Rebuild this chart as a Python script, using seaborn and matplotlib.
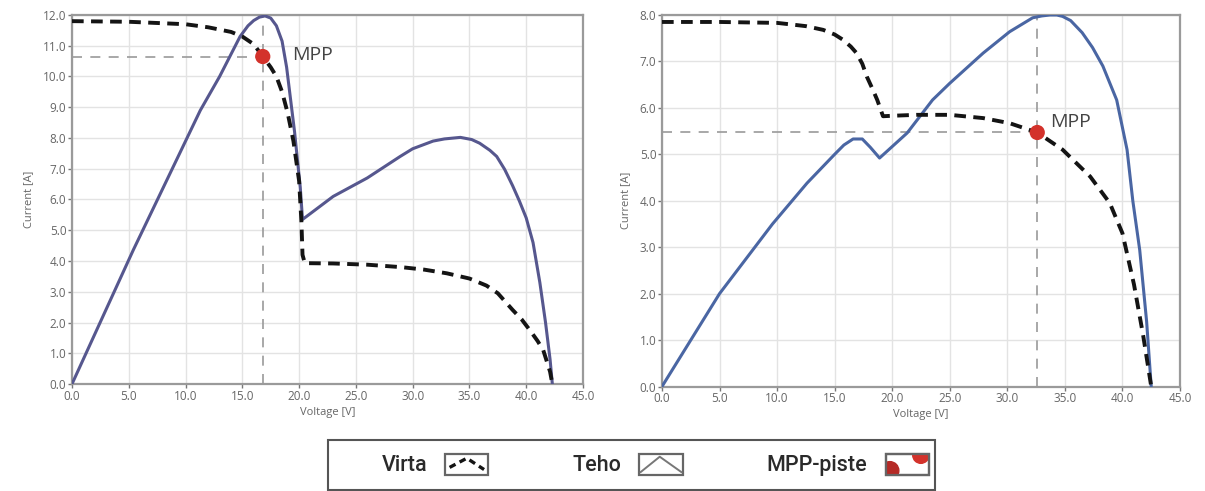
import matplotlib
matplotlib.use("Agg")
import matplotlib.pyplot as plt
import seaborn as sns
import pandas as pd
from matplotlib.lines import Line2D
from matplotlib.patches import Rectangle, Circle
from matplotlib.legend_handler import HandlerBase

# ---------------- data ----------------
# Left panel: current (Virta) and scaled power (Teho)
left_v_current = [0, 5, 10, 12, 14, 15, 16, 16.8, 17.5, 18, 18.5, 19, 19.5, 20, 20.2, 20.3, 20.5,
                  23, 26, 29, 31, 33, 35, 36.5, 37.5, 38.8, 39.6, 40.3, 41.0, 41.5, 42.1, 42.3]
left_i_current = [11.8, 11.78, 11.7, 11.6, 11.45, 11.3, 11.05, 10.65, 10.3, 10.0, 9.5, 8.8, 7.9, 6.6, 5.3, 4.2, 3.93,
                  3.92, 3.88, 3.8, 3.72, 3.6, 3.43, 3.2, 2.95, 2.41, 2.1, 1.76, 1.4, 1.1, 0.4, 0.0]
left_v_power = [0, 5.4, 11.3, 13, 14.8, 15.5, 16, 16.5, 17, 17.5, 18, 18.5, 18.9, 19.6, 20.1, 20.3, 23, 26,
                28.9, 30, 31.8, 32.8, 34.2, 35.2, 35.9, 36.8, 37.4, 38.1, 38.8, 39.4, 40.0, 40.6, 41.2, 41.7,
                42.1, 42.3]
left_p_power = [0, 4.36, 8.9, 10.0, 11.3, 11.65, 11.82, 11.93, 11.97, 11.9, 11.65, 11.15, 10.3, 8.2, 6.4, 5.35,
                6.1, 6.7, 7.4, 7.65, 7.9, 7.97, 8.02, 7.95, 7.83, 7.6, 7.4, 6.98, 6.45, 5.95, 5.4, 4.6, 3.3,
                2.0, 0.8, 0.0]
left_mpp = (16.8, 10.65)

# Right panel
right_v_current = [0, 5, 10, 11.1, 12.5, 14, 15, 15.7, 16.4, 16.9, 17.4, 17.8, 18.3, 18.7, 19.2, 20, 22.1,
                   25, 27.9, 30.2, 32.6, 34.8, 37.2, 38.9, 40.0, 41.0, 41.8, 42.5]
right_i_current = [7.85, 7.85, 7.83, 7.8, 7.76, 7.68, 7.58, 7.47, 7.32, 7.18, 6.95, 6.67, 6.4, 6.17, 5.82, 5.83,
                   5.85, 5.85, 5.78, 5.67, 5.47, 5.1, 4.52, 3.95, 3.3, 2.2, 1.1, 0.0]
right_v_power = [0, 5, 9.6, 12.6, 15, 15.8, 16.6, 17.4, 18.1, 18.9, 21.3, 23.5, 25, 27.9, 30.2, 32.2, 33.0,
                 33.7, 34.3, 34.8, 35.5, 36.5, 37.4, 38.3, 39.5, 40.4, 40.9, 41.5, 42.1, 42.5]
right_p_power = [0, 2.0, 3.5, 4.38, 5.0, 5.2, 5.33, 5.33, 5.15, 4.92, 5.46, 6.17, 6.53, 7.18, 7.64, 7.94, 7.98,
                 8.0, 8.0, 7.97, 7.88, 7.62, 7.3, 6.9, 6.17, 5.1, 4.0, 2.94, 1.4, 0.0]
right_mpp = (32.6, 5.47)

x_ticks = [0, 5, 10, 15, 20, 25, 30, 35, 40, 45]
left_y_ticks = [0, 1, 2, 3, 4, 5, 6, 7, 8, 9, 10, 11, 12]
right_y_ticks = [0, 1, 2, 3, 4, 5, 6, 7, 8]

legend_labels = ["Virta", "Teho", "MPP-piste"]

# ---------------- style ----------------
sns.set_theme(style="white")
plt.rcParams['font.family'] = ['Open Sans', 'DejaVu Sans']

fig = plt.figure(figsize=(12.05, 4.91), dpi=100)
ax_l = fig.add_axes([72 / 1205, 1 - 384 / 491, 511 / 1205, 369 / 491])
ax_r = fig.add_axes([662 / 1205, 1 - 386.5 / 491, 518 / 1205, 371.5 / 491])

dash_style = (0, (3.0, 1.9))
guide_style = (0, (6, 5))
PCOL_L = "#56578e"
PCOL_R = "#4a66a3"
RED = "#d3322b"


def draw_panel(ax, vc, ic, vp, pp, mpp, yticks, ymax, pcolor):
    dfc = pd.DataFrame({"V": vc, "I": ic})
    dfp = pd.DataFrame({"V": vp, "P": pp})
    ax.grid(True, color="#e3e3e3", linewidth=1.0)
    ax.set_axisbelow(True)
    ax.axvline(mpp[0], color="#9a9a9a", lw=1.2, linestyle=guide_style, zorder=1)
    ax.plot([0, mpp[0]], [mpp[1], mpp[1]], color="#9a9a9a", lw=1.2, linestyle=guide_style, zorder=1)
    sns.lineplot(data=dfp, x="V", y="P", ax=ax, color=pcolor, lw=2.2, sort=False,
                 estimator=None, zorder=3)
    sns.lineplot(data=dfc, x="V", y="I", ax=ax, color="#141414", lw=2.8, sort=False,
                 estimator=None, zorder=4, linestyle=dash_style)
    sns.scatterplot(x=[mpp[0]], y=[mpp[1]], ax=ax, color=RED, s=120, edgecolor="none", zorder=6)
    ax.set_xlim(0, 45)
    ax.set_ylim(0, ymax)
    ax.set_xticks(x_ticks)
    ax.set_xticklabels([f"{t:.1f}" for t in x_ticks])
    ax.set_yticks(yticks)
    ax.set_yticklabels([f"{t:.1f}" for t in yticks])
    ax.tick_params(axis="both", which="both", labelsize=8.5, colors="#777777", length=3, width=1,
                   direction="out", pad=1, labelcolor="#666666")
    ax.tick_params(left=True, bottom=True)
    for s in ax.spines.values():
        s.set_color("#9a9a9a")
        s.set_linewidth(1.6)
    ax.set_xlabel("Voltage [V]", fontsize=8, color="#666666", labelpad=3)
    ax.set_ylabel("Current [A]", fontsize=8, color="#666666", labelpad=6)


draw_panel(ax_l, left_v_current, left_i_current, left_v_power, left_p_power, left_mpp,
           left_y_ticks, 12, PCOL_L)
draw_panel(ax_r, right_v_current, right_i_current, right_v_power, right_p_power, right_mpp,
           right_y_ticks, 8, PCOL_R)

ax_l.text(left_mpp[0] + 2.6, left_mpp[1] + 0.05, "MPP", fontsize=14, color="#444444", va="center", ha="left")
ax_r.text(right_mpp[0] + 1.1, right_mpp[1] + 0.22, "MPP", fontsize=14, color="#444444", va="center", ha="left")


# ---------------- legend (icon-style handles) ----------------
class IconHandler(HandlerBase):
    def __init__(self, kind):
        super().__init__()
        self.kind = kind

    def create_artists(self, legend, orig_handle, xdescent, ydescent, width, height, fontsize, trans):
        x0, y0 = -xdescent, -ydescent
        box = Rectangle((x0, y0), width, height, facecolor="white", edgecolor="#666666",
                        lw=1.6, transform=trans, zorder=1)
        arts = [box]
        fx = lambda f: x0 + f * width
        fy = lambda f: y0 + f * height
        if self.kind == "virta":
            arts.append(Line2D([fx(0.1), fx(0.5), fx(0.9)], [fy(0.35), fy(0.78), fy(0.25)],
                               color="#141414", lw=2.4, linestyle=(0, (2.0, 1.4)), transform=trans))
        elif self.kind == "teho":
            arts.append(Line2D([fx(0.02), fx(0.47), fx(0.98)], [fy(0.12), fy(0.85), fy(0.12)],
                               color="#777777", lw=1.4, transform=trans))
        else:
            inner = Rectangle((x0, y0), width, height, transform=trans)
            c1 = Circle((fx(0.1), fy(0.2)), height * 0.42, color="#b52a26", transform=trans)
            c2 = Circle((fx(0.82), fy(0.92)), height * 0.38, color=RED, transform=trans)
            for c in (c1, c2):
                c.set_clip_path(inner)
                arts.append(c)
            arts.append(Rectangle((x0, y0), width, height, facecolor="none", edgecolor="#666666",
                                  lw=1.6, transform=trans))
        return arts


h_virta = Line2D([0], [0], color="#141414")
h_teho = Line2D([0], [0], color=PCOL_L)
h_mpp = Line2D([0], [0], color=RED)

# legend frame
fig.patches.append(Rectangle((328 / 1205, 1 / 491), 607 / 1205, 50 / 491, transform=fig.transFigure,
                             facecolor="white", edgecolor="#555555", lw=1.5, zorder=0))

leg = fig.legend([h_virta, h_teho, h_mpp], legend_labels, loc="center",
                 bbox_to_anchor=(655 / 1205, 1 - 465 / 491),
                 handler_map={h_virta: IconHandler("virta"), h_teho: IconHandler("teho"),
                              h_mpp: IconHandler("mpp")},
                 ncol=3, markerfirst=False, frameon=False,
                 prop={"family": "Roboto", "size": 15.5, "weight": "medium"},
                 handlelength=2.0, handleheight=1.15,
                 handletextpad=0.85, columnspacing=3.9, borderpad=0.0, borderaxespad=0.0)
for t in leg.get_texts():
    t.set_color("#2a2a2a")

fig.savefig("out.png", dpi=100)
